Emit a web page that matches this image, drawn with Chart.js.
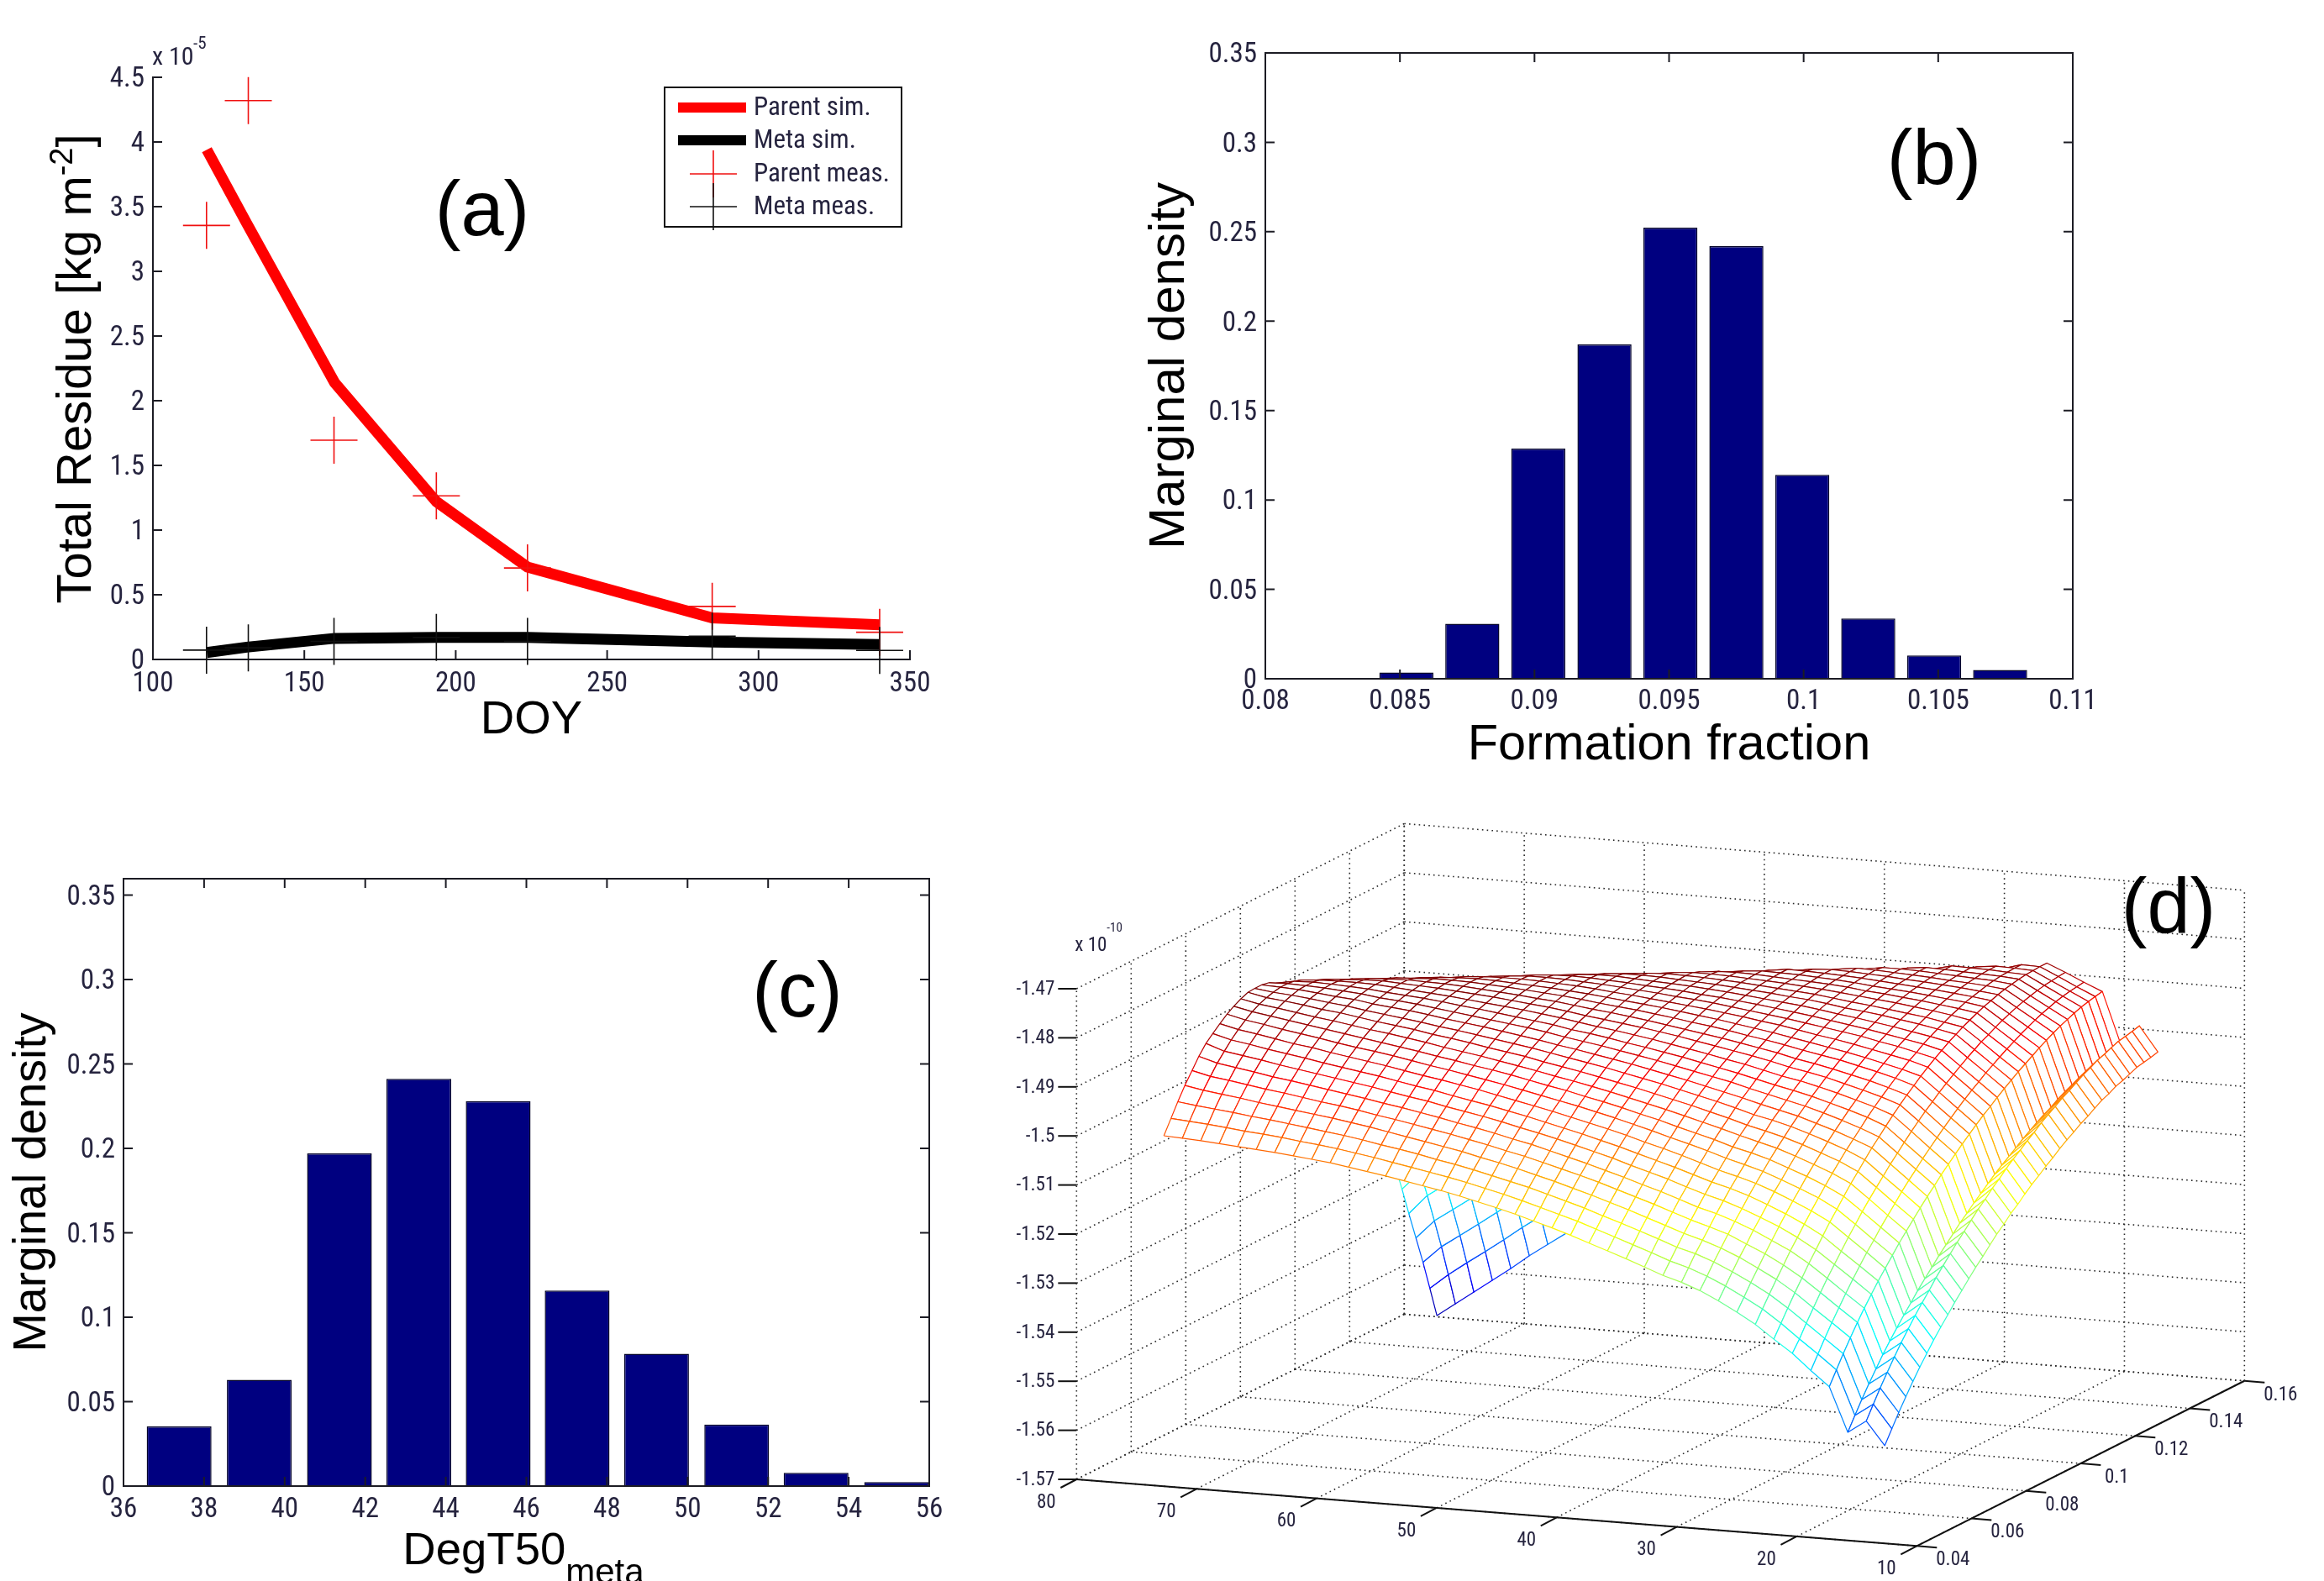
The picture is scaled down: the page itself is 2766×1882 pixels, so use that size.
<!DOCTYPE html>
<html><head><meta charset="utf-8"><title>Residue fit and posterior densities</title>
<script src="https://cdn.jsdelivr.net/npm/chart.js@4"></script>
<style>html,body{margin:0;background:#fff}#page{position:relative;width:2766px;height:1882px;overflow:hidden;background:#fff}canvas{position:absolute;filter:blur(.45px)}</style>
</head><body><div id="page"></div>
<script>
// ---------- Panel (a) data ----------
const doySim=[117.8,131,160,193.6,223.7,284.7,340];
const parentSim=[3.94,3.37,2.14,1.22,0.714,0.322,0.268];
const metaSim=[0.054,0.095,0.163,0.17,0.17,0.134,0.116];
const doyMeas=[117.7,131.5,159.8,193.6,223.7,284.7,340];
const parentMeas=[3.355,4.32,1.695,1.265,0.707,0.41,0.21];
const metaMeas=[0.072,0.09,0.14,0.17,0.14,0.18,0.07];
const ticksAx=[100,150,200,250,300,350];
const ticksAy=[0,0.5,1,1.5,2,2.5,3,3.5,4,4.5];
const legendA=["Parent sim.","Meta sim.","Parent meas.","Meta meas."];
// ---------- Panel (b) data ----------
const binsB=[0.08524,0.08769,0.09014,0.0926,0.09505,0.0975,0.09995,0.1024,0.10485,0.1073];
const densB=[0.0035,0.0308,0.1287,0.187,0.2523,0.242,0.114,0.0337,0.013,0.0049];
const ticksBx=[0.08,0.085,0.09,0.095,0.1,0.105,0.11];
const ticksBy=[0,0.05,0.1,0.15,0.2,0.25,0.3,0.35];
// ---------- Panel (c) data ----------
const binsC=[37.38,39.37,41.36,43.33,45.3,47.26,49.23,51.22,53.19,55.19];
const densC=[0.0353,0.0629,0.197,0.2412,0.228,0.1158,0.0783,0.0364,0.0078,0.0024];
const ticksCx=[36,38,40,42,44,46,48,50,52,54,56];
const ticksCy=[0,0.05,0.1,0.15,0.2,0.25,0.3,0.35];
// ---------- Panel (d) data ----------
const ticksDx=[80,70,60,50,40,30,20,10];
const ticksDy=[0.04,0.06,0.08,0.1,0.12,0.14,0.16];
const ticksDz=[-1.47,-1.48,-1.49,-1.5,-1.51,-1.52,-1.53,-1.54,-1.55,-1.56,-1.57];
const meshDegT50=[75,73.46,71.92,70.38,68.84,67.3,65.76,64.22,62.68,61.14,59.6,58.06,56.52,54.98,53.44,51.9,50.36,48.82,47.28,45.74,44.2,42.66,41.12,39.58,38.04,36.5,34.96,33.42,31.88,30.34,28.8,27.26,25.72,24.18,22.64,21.1,19.56,18.02,16.48,14.94];
const meshFraction=[.05,.0526,.0551,.0577,.0603,.0628,.0654,.0679,.0705,.0731,.0756,.0782,.0808,.0833,.0859,.0885,.091,.0936,.0962,.0987,.1013,.1038,.1064,.109,.1115,.1141,.1167,.1192,.1218,.1244,.1269,.1295,.1321,.1346,.1372,.1397,.1423,.1449,.1474,.15];
// surface height per DegT50 column and fraction row, in 1e-14 above -1.57e-10
const meshHeight=[
[682,710,737,763,786,808,827,840,853,865,874,882,888,889,889,886,878,869,858,845,830,813,793,770,745,718,688,655,618,578,535,488,438,385,329,272,215,158,98,35],
[680,707,732,756,777,797,814,830,844,856,866,874,880,884,887,887,885,880,872,862,848,832,813,791,767,740,709,677,641,602,561,517,469,420,367,312,253,193,129,62],
[678,704,728,751,772,791,808,824,838,850,860,869,876,881,885,886,886,883,877,868,857,842,825,805,782,756,727,695,660,623,582,539,493,444,392,337,279,219,156,89],
[675,700,724,746,766,785,802,817,831,843,854,863,871,877,881,884,885,884,880,874,864,851,836,817,796,771,743,713,680,643,604,561,516,468,417,362,305,245,182,116],
[672,696,719,740,760,778,795,811,824,837,848,857,865,872,877,881,883,884,882,878,870,859,845,829,809,786,760,731,698,663,625,584,539,492,441,388,331,272,209,143],
[669,693,715,735,755,773,789,805,819,831,842,852,861,868,874,878,881,883,883,880,875,866,854,839,821,800,775,748,717,683,646,606,563,516,467,414,358,299,237,172],
[666,689,710,730,749,767,783,798,812,824,836,846,855,862,868,873,877,880,881,881,877,871,861,848,831,812,789,763,734,701,666,627,585,539,490,438,383,325,263,198],
[662,684,705,725,743,761,777,792,806,818,830,840,849,857,864,870,874,877,879,880,879,875,867,856,842,824,803,779,751,720,685,647,606,562,514,462,408,350,289,224],
[658,680,700,720,738,755,771,786,800,813,824,835,844,852,860,866,871,874,877,879,879,877,872,863,851,835,815,793,766,737,703,667,627,583,536,486,431,374,312,248],
[654,675,695,714,732,749,765,780,794,807,818,829,839,847,855,861,867,871,874,877,878,878,875,868,858,845,827,806,782,753,721,686,647,604,558,508,454,397,336,272],
[648,669,689,708,725,742,758,773,787,800,812,823,832,841,849,856,862,867,871,874,876,877,876,872,865,853,838,819,796,769,739,705,668,625,580,531,478,421,360,296],
[642,663,682,701,719,736,751,766,780,793,805,816,827,836,844,851,858,863,868,871,874,875,876,875,870,861,848,831,810,785,756,723,687,646,602,553,501,445,384,320],
[636,656,676,694,712,729,745,760,774,787,799,810,821,830,839,846,853,859,864,868,871,873,875,875,873,866,856,841,822,799,772,741,706,667,623,575,524,468,408,344],
[629,649,669,687,705,722,737,752,767,780,792,804,814,824,833,841,848,855,860,864,868,871,873,874,874,870,862,850,834,814,788,759,725,687,645,598,547,492,432,368],
[622,642,661,680,698,714,730,745,760,773,786,797,808,818,827,836,843,850,856,861,865,868,871,872,873,872,867,858,844,826,803,775,743,706,665,619,569,515,455,392],
[615,635,654,673,690,707,723,738,752,766,779,790,802,812,821,830,838,845,851,856,861,865,868,870,871,872,870,864,853,837,816,791,761,726,686,642,592,538,479,416],
[607,627,646,664,682,699,715,730,744,758,771,783,794,805,814,823,831,839,845,851,856,861,864,867,869,870,870,867,859,846,828,805,777,744,706,663,615,562,504,440],
[598,618,637,656,673,690,706,722,736,750,763,775,787,798,808,817,826,833,840,847,852,857,861,864,866,868,869,869,864,855,840,819,793,763,726,684,638,585,527,464],
[589,609,628,647,665,682,698,713,728,742,756,768,780,791,801,811,820,828,835,842,848,853,857,861,864,866,867,868,867,861,849,832,808,780,745,705,659,608,551,488],
[579,599,619,637,655,672,689,704,719,734,747,760,772,784,794,804,813,822,830,837,843,849,853,857,861,864,865,867,867,865,857,843,823,796,764,726,681,631,575,512],
[568,588,608,627,645,662,679,695,710,725,739,752,764,776,787,797,807,816,824,831,838,844,849,854,857,861,863,865,866,866,862,852,835,812,782,746,703,654,598,536],
[557,577,597,616,635,652,669,685,701,716,730,743,756,768,779,790,800,809,818,825,832,839,845,850,854,858,860,863,864,865,865,859,846,826,799,765,724,677,622,560],
[545,566,586,605,624,641,659,675,691,706,720,734,747,760,771,782,793,802,811,819,827,834,840,845,850,854,857,860,862,863,864,864,854,838,815,784,745,699,645,584],
[532,553,573,593,612,630,647,664,680,696,711,725,738,751,763,774,785,795,804,813,821,828,835,840,846,850,854,857,860,861,863,863,860,849,829,801,765,721,669,608],
[519,540,561,581,600,618,636,653,670,685,700,715,729,742,754,766,777,787,797,806,814,822,829,835,841,846,850,854,857,859,861,862,862,856,842,818,785,743,692,632],
[506,527,548,568,588,607,625,642,659,675,690,705,719,733,745,758,769,780,790,799,808,816,824,830,836,842,847,851,854,857,859,860,861,861,852,833,804,765,716,656],
[492,514,535,555,575,594,612,630,647,664,680,695,709,723,736,748,760,771,782,792,801,809,817,824,831,837,842,846,850,854,856,858,859,860,858,845,821,785,738,680],
[478,500,521,542,562,581,600,618,635,652,668,684,698,712,726,739,751,762,773,783,793,802,810,818,825,831,836,841,846,849,852,855,857,858,858,853,835,804,761,704],
[467,489,511,531,551,571,590,608,625,642,659,674,689,704,717,730,743,755,766,776,786,795,804,812,819,826,832,837,842,846,849,852,854,856,857,857,847,822,783,728],
[453,475,497,518,539,558,577,596,614,631,648,664,679,694,708,721,734,746,758,768,779,788,797,806,813,820,827,832,838,842,846,849,852,854,855,856,856,838,804,752],
[435,458,480,502,522,543,562,581,600,617,634,651,667,682,696,710,723,736,748,759,770,780,789,798,806,814,821,827,833,838,842,846,849,851,853,854,855,850,824,776],
[415,438,461,483,505,525,546,565,584,602,620,637,653,669,684,698,712,725,738,750,761,771,781,791,799,807,815,822,828,833,838,842,846,849,851,853,854,854,842,800],
[393,417,440,463,485,507,527,547,567,586,604,622,639,655,670,685,700,714,727,739,751,762,773,782,792,800,808,815,822,828,834,838,842,846,849,851,852,853,853,824],
[366,391,415,439,462,484,505,526,547,566,585,604,621,638,655,670,685,700,714,727,739,751,762,773,782,792,800,808,815,822,828,833,838,842,845,848,850,851,852,852],
[340,362,387,411,435,457,478,498,519,538,557,575,592,608,625,640,655,670,684,697,709,721,732,743,753,763,772,781,788,796,803,809,815,820,824,828,831,833,835,836],
[308,334,359,384,407,429,451,471,491,509,528,545,562,579,595,610,625,639,653,666,679,691,703,714,724,735,744,753,762,770,778,785,792,798,803,808,812,815,817,819],
[278,305,331,356,380,402,423,443,462,481,499,516,533,549,565,580,595,609,623,636,649,661,673,684,695,706,716,726,735,744,753,761,769,776,782,788,793,797,800,803],
[188,215,240,265,288,310,331,350,369,387,405,422,438,454,469,484,499,512,526,538,551,563,574,585,595,606,616,625,634,642,651,659,666,673,678,684,689,692,695,698],
[214,241,267,292,316,338,359,379,398,416,435,452,469,485,500,516,531,544,559,571,585,597,608,620,630,642,652,661,671,679,688,697,704,712,717,723,729,732,735,739],
[167,194,220,245,269,291,312,332,351,369,387,404,421,437,452,468,483,496,511,522,536,548,559,571,581,593,603,612,622,630,639,648,654,662,667,673,679,682,685,689]
];
const NARROW='"Liberation Sans Narrow","Roboto Condensed","Liberation Sans",sans-serif';
const SANS='"Liberation Sans",Arial,sans-serif';
const TICKC='#26243f', AXC='#1c1c24', NAVY='#000080';

const page=document.getElementById('page');
function mount(left,top,w,h){const c=document.createElement('canvas');c.width=w;c.height=h;c.style.left=left+'px';c.style.top=top+'px';c.style.width=w+'px';c.style.height=h+'px';page.appendChild(c);return c.getContext('2d');}
function runsText(ctx,runs,cx,cy,rot){
  ctx.save();ctx.translate(cx,cy);ctx.rotate(rot||0);ctx.textAlign='left';ctx.textBaseline='alphabetic';
  let total=0;runs.forEach(r=>{ctx.font=r.font;r.w=ctx.measureText(r.t).width;total+=r.w;});
  let x=-total/2;runs.forEach(r=>{ctx.font=r.font;ctx.fillStyle=r.color||'#000';ctx.fillText(r.t,x,r.dy||0);x+=r.w;});
  ctx.restore();
}
function label(ctx,t,x,y,font,align,color){ctx.font=font;ctx.textAlign=align||'center';ctx.textBaseline='middle';ctx.fillStyle=color||'#000';ctx.fillText(t,x,y);}
function axisX(ticks,min,max,h,pad,title,titleSize,titlePad){return{type:'linear',min,max,offset:false,grid:{display:false},border:{display:true,color:AXC,width:2},
  afterBuildTicks:s=>{s.ticks=ticks.map(v=>({value:v}));},afterFit:s=>{s.height=h;},
  ticks:{autoSkip:false,maxRotation:0,minRotation:0,padding:pad,color:TICKC,font:{family:NARROW,size:33},callback:v=>String(v)},
  title:title?{display:true,text:title,color:'#000',font:{family:SANS,size:titleSize,lineHeight:1},padding:{top:0,bottom:titlePad}}:{display:false}};}
function axisY(ticks,min,max,w,title,titleSize,titlePad){return{type:'linear',min,max,grid:{display:false},border:{display:true,color:AXC,width:2},
  afterBuildTicks:s=>{s.ticks=ticks.map(v=>({value:v}));},afterFit:s=>{s.width=w;},
  ticks:{autoSkip:false,padding:2,labelOffset:3,color:TICKC,font:{family:NARROW,size:33},callback:v=>String(v)},
  title:title?{display:true,text:title,color:'#000',font:{family:SANS,size:titleSize,lineHeight:1},padding:{top:titlePad,bottom:0}}:{display:false}};}
function frame(box,len){return{id:'frame',afterDatasetsDraw(ch){const{ctx,chartArea:a,scales:{x,y}}=ch;ctx.save();ctx.strokeStyle=AXC;ctx.lineWidth=2;ctx.beginPath();
  x.ticks.forEach(t=>{const p=x.getPixelForValue(t.value);ctx.moveTo(p,a.bottom);ctx.lineTo(p,a.bottom-len);if(box){ctx.moveTo(p,a.top);ctx.lineTo(p,a.top+len);}});
  y.ticks.forEach(t=>{const p=y.getPixelForValue(t.value);ctx.moveTo(a.left,p);ctx.lineTo(a.left+len,p);if(box){ctx.moveTo(a.right,p);ctx.lineTo(a.right-len,p);}});
  if(box)ctx.rect(a.left,a.top,a.right-a.left,a.bottom-a.top);ctx.stroke();ctx.restore();}};}
const base={responsive:false,animation:false,events:[],devicePixelRatio:1};
const off={legend:{display:false},tooltip:{enabled:false}};
const pts=(xs,ys)=>xs.map((x,i)=>({x,y:ys[i]}));

// ---------- (a) ----------
(function(){
 const L=0,T=0,W=1150,H=900;const ctx=mount(L,T,W,H);
 new Chart(ctx,{type:'line',data:{datasets:[
  {label:legendA[3],data:pts(doyMeas,metaMeas),showLine:false,pointStyle:'cross',pointRadius:28,pointBorderColor:'#111',pointBorderWidth:1.6,clip:false},
  {label:legendA[2],data:pts(doyMeas,parentMeas),showLine:false,pointStyle:'cross',pointRadius:28,pointBorderColor:'#f01010',pointBorderWidth:1.6,clip:false},
  {label:legendA[1],data:pts(doySim,metaSim),borderColor:'#000',borderWidth:13,pointRadius:0,tension:0,borderCapStyle:'butt',clip:false},
  {label:legendA[0],data:pts(doySim,parentSim),borderColor:'#ff0000',borderWidth:13,pointRadius:0,tension:0,borderCapStyle:'butt',clip:false}
 ]},options:{...base,layout:{padding:{top:92,right:W-1083,left:0,bottom:0}},plugins:off,
  scales:{x:axisX(ticksAx,100,350,H-785,2,'DOY',56,14),y:axisY(ticksAy,0,4.5,182)}},
  plugins:[frame(false,11),{id:'textA',afterDraw(ch){const c=ch.ctx;c.save();
   runsText(c,[{t:'Total Residue [kg m',font:'58px '+SANS},{t:'-2',font:'38px '+SANS,dy:-22},{t:']',font:'58px '+SANS}],108,439,-Math.PI/2);
   label(c,'x 10',181,69,'30px '+NARROW,'left',TICKC);label(c,'-5',230,53,'21px '+NARROW,'left',TICKC);
   label(c,'(a)',574,255,'92px '+SANS);
   c.strokeStyle='#111';c.lineWidth=2;c.strokeRect(791,104,282,166);
   const ys=[129,168,208,247];
   c.fillStyle='#ff0000';c.fillRect(807,122,81,12);c.fillStyle='#000';c.fillRect(807,161,81,12);
   c.lineWidth=1.6;
   [['#f01010',207],['#111',246]].forEach(([col,y])=>{c.strokeStyle=col;c.beginPath();c.moveTo(821,y);c.lineTo(877,y);c.moveTo(849,y-28);c.lineTo(849,y+28);c.stroke();});
   legendA.forEach((t,i)=>label(c,t,897,ys[i],'31px '+NARROW,'left',TICKC));
   c.restore();}}]});
})();

// ---------- (b) ----------
(function(){
 const L=1300,T=0,W=1250,H=940;const ctx=mount(L,T,W,H);
 new Chart(ctx,{type:'bar',data:{datasets:[{label:'Marginal density',data:pts(binsB,densB),backgroundColor:NAVY,borderColor:'#05052a',borderWidth:1.5,barPercentage:.82,categoryPercentage:1}]},
  options:{...base,layout:{padding:{top:63,right:L+W-2467,left:0,bottom:0}},plugins:off,
  scales:{x:axisX(ticksBx,.08,.11,H-808,0,'Formation fraction',59.5,23),y:axisY(ticksBy,0,.35,1506-L,'Marginal density',60,62)}},
  plugins:[frame(true,11),{id:'textB',afterDraw(ch){label(ch.ctx,'(b)',2302-L,194-T,'92px '+SANS);}}]});
})();

// ---------- (c) ----------
(function(){
 const L=0,T=980,W=1150,H=902;const ctx=mount(L,T,W,H);
 new Chart(ctx,{type:'bar',data:{datasets:[{label:'Marginal density',data:pts(binsC,densC),backgroundColor:NAVY,borderColor:'#05052a',borderWidth:1.5,barPercentage:.82,categoryPercentage:1}]},
  options:{...base,layout:{padding:{top:1046-T,right:W-1106,left:0,bottom:0}},plugins:off,
  scales:{x:axisX(ticksCx,36,56,1882-1769,1),y:axisY(ticksCy,0,.3597,147,'Marginal density',55.5,11)}},
  plugins:[frame(true,11),{id:'textC',afterDraw(ch){const c=ch.ctx;
   runsText(c,[{t:'DegT50',font:'54.5px '+SANS},{t:'meta',font:'42px '+SANS,dy:23}],623,1862-T);
   label(c,'(c)',949,1185-T,'92px '+SANS);}}]});
})();

// ---------- (d) ----------
(function(){
 const L=1150,T=950,W=1616,H=932;const ctx=mount(L,T,W,H);
 const X0=80,Y0=.04,Z0=-1.57,Z1=-1.47;
 const proj=(x,y,z)=>({x:1281.3-L+(x-X0)*-14.286+(y-Y0)*3250,y:1761-T+(x-X0)*-1.133+(y-Y0)*-1638+(z-Z0)*-5840});
 const zOf=v=>Z0+v*1e-4;
 const jet=t=>{const f=a=>Math.round(255*Math.max(0,Math.min(1,1.5-Math.abs(4*t-a))));return`rgb(${f(3)},${f(2)},${f(1)})`;};
 const V0=33,V1=868;
 const ds=[];
 const nx=meshDegT50.length,ny=meshFraction.length;
 // first dataset is painted last, so nearest cells go first
 for(let j=0;j<ny-1;j++)for(let i=nx-2;i>=0;i--){
  const h=[meshHeight[i][j],meshHeight[i+1][j],meshHeight[i+1][j+1],meshHeight[i][j+1]];
  const P=[proj(meshDegT50[i],meshFraction[j],zOf(h[0])),proj(meshDegT50[i+1],meshFraction[j],zOf(h[1])),proj(meshDegT50[i+1],meshFraction[j+1],zOf(h[2])),proj(meshDegT50[i],meshFraction[j+1],zOf(h[3]))];
  P.push(P[0]);
  const t=Math.max(0,Math.min(1,((h[0]+h[1]+h[2]+h[3])/4-V0)/(V1-V0)));
  ds.push({data:P,borderColor:jet(t),borderWidth:1.2,backgroundColor:'#fff',fill:'shape',pointRadius:0,tension:0,borderJoinStyle:'round'});
 }
 const seg=(a,b,style)=>ds.push({data:[a,b],pointRadius:0,tension:0,fill:false,...style});
 const solid={borderColor:'#111',borderWidth:2};
 const dot={borderColor:'#2a2a2a',borderWidth:1.6,borderDash:[1.6,4.2]};
 const xN=80,xF=10,yN=.04,yF=.16;
 // axis lines and ticks
 seg(proj(xN,yN,Z0),proj(xF,yN,Z0),solid);seg(proj(xF,yN,Z0),proj(xF,yF,Z0),solid);
 ticksDx.forEach(v=>{const p=proj(v,yN,Z0);seg(p,{x:p.x-19,y:p.y+10},solid);});
 ticksDy.forEach(v=>{const p=proj(xF,v,Z0);seg(p,{x:p.x+24,y:p.y+2},solid);});
 ticksDz.forEach(v=>{const p=proj(xN,yN,v);seg(p,{x:p.x-22,y:p.y},solid);});
 // dotted grid on floor and two back walls
 ticksDx.forEach(v=>{seg(proj(v,yN,Z0),proj(v,yF,Z0),dot);seg(proj(v,yF,Z0),proj(v,yF,Z1),dot);});
 ticksDy.forEach(v=>{seg(proj(xN,v,Z0),proj(xF,v,Z0),dot);seg(proj(xN,v,Z0),proj(xN,v,Z1),dot);});
 ticksDz.forEach(v=>{seg(proj(xN,yN,v),proj(xN,yF,v),dot);seg(proj(xN,yF,v),proj(xF,yF,v),dot);});
 new Chart(ctx,{type:'line',data:{datasets:ds},options:{...base,layout:{padding:0},plugins:{...off,filler:{propagate:false}},
  scales:{x:{type:'linear',min:0,max:W,display:false},y:{type:'linear',min:0,max:H,reverse:true,display:false}}},
  plugins:[{id:'textD',afterDraw(ch){const c=ch.ctx,f='23px '+NARROW;c.save();
   ticksDz.forEach(v=>{const p=proj(xN,yN,v);label(c,String(v),p.x-26,p.y+1,f,'right',TICKC);});
   ticksDx.forEach(v=>{const p=proj(v,yN,Z0);label(c,String(v),p.x-36,p.y+28,f,'center',TICKC);});
   ticksDy.forEach(v=>{const p=proj(xF,v,Z0);label(c,String(v),p.x+43,p.y+17,f,'center',TICKC);});
   const q=proj(xN,yN,Z1);label(c,'x 10',q.x+17,q.y-51,f,'center',TICKC);label(c,'-10',q.x+36,q.y-72,'15px '+NARROW,'left',TICKC);
   label(c,'(d)',2581-L,1085-T,'92px '+SANS);c.restore();}}]});
})();
</script></body></html>
